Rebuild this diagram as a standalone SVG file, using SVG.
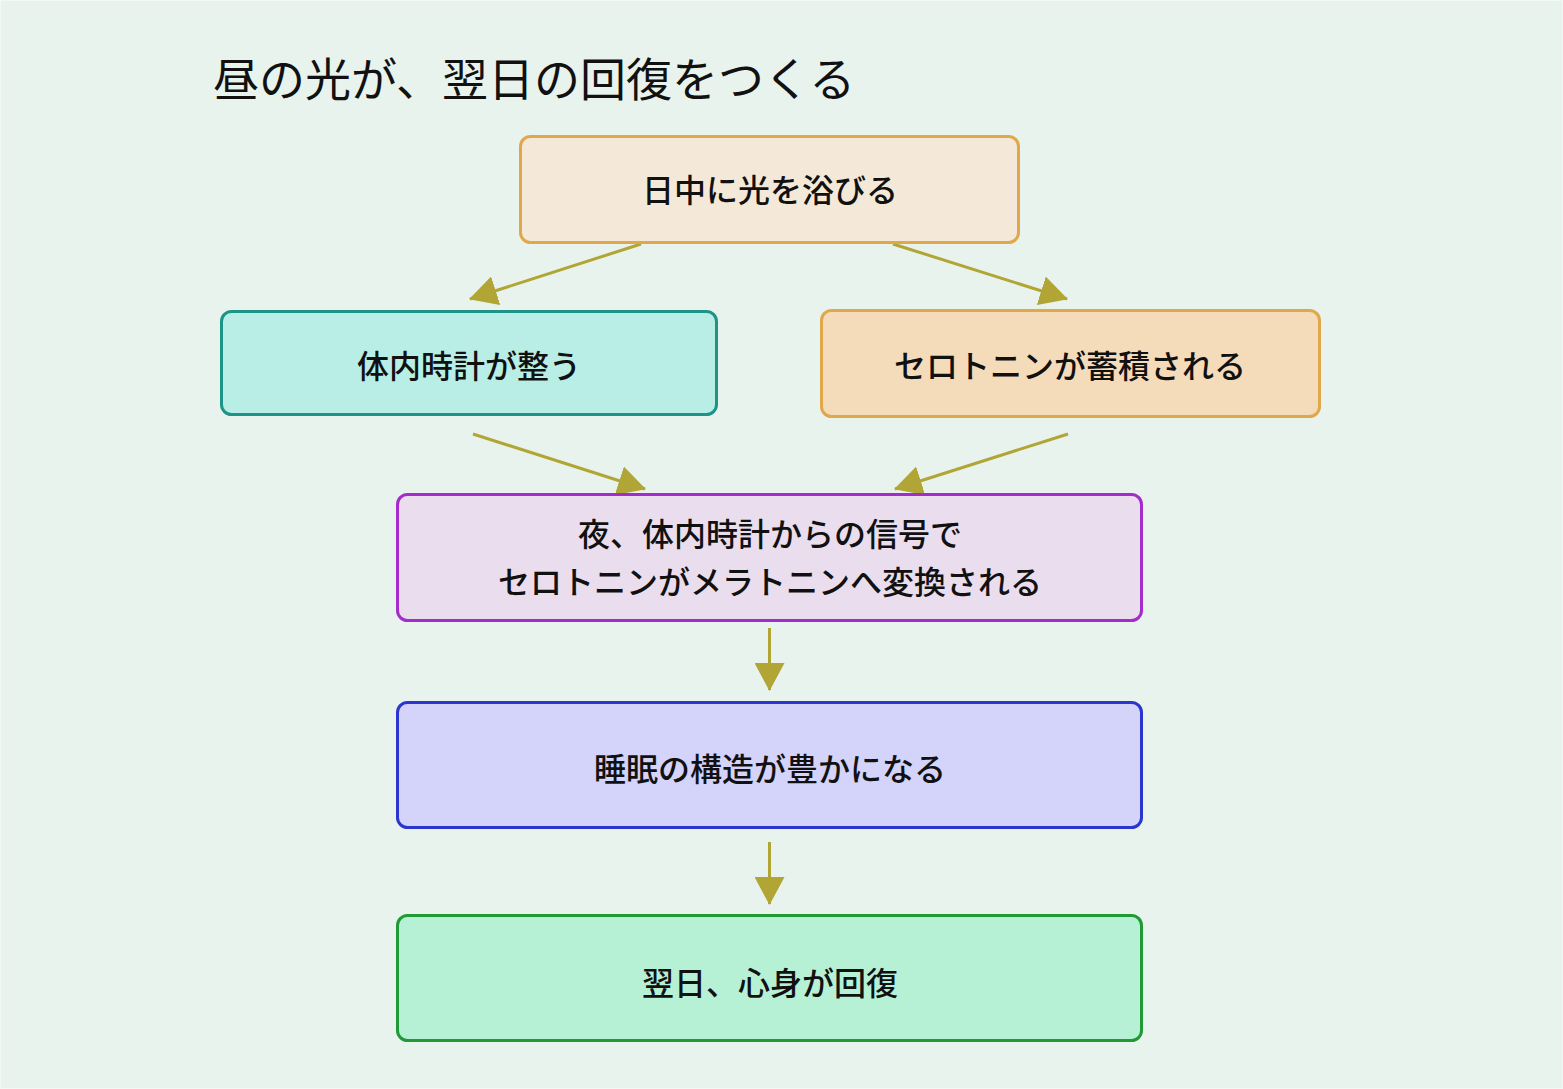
<svg xmlns="http://www.w3.org/2000/svg" width="1563" height="1089" viewBox="0 0 1563 1089">
<style>
.t{font-family:"Noto Sans CJK JP","Noto Sans CJK SC",sans-serif;fill:#111;text-anchor:middle;dominant-baseline:central}
.lbl{font-size:32px;font-weight:500}
.title{font-size:46px;font-weight:400;text-anchor:start;dominant-baseline:alphabetic}
.box{stroke-width:3}
.edge{stroke:#b0a535;stroke-width:3;fill:none;marker-end:url(#ah)}
</style>
<defs>
<marker id="ah" markerUnits="userSpaceOnUse" markerWidth="28" markerHeight="30" refX="27" refY="15" orient="auto">
<path d="M0,0 L28,15 L0,30 z" fill="#b0a535"/>
</marker>
</defs>
<rect x="0.5" y="0.5" width="1562" height="1088" fill="#e8f3ed" stroke="#f2f8f4" stroke-width="1"/>
<text class="t title" x="213" y="96">昼の光が、翌日の回復をつくる</text>
<g id="connectors">
<line class="edge" x1="641" y1="244" x2="470" y2="299"/>
<line class="edge" x1="893" y1="244" x2="1067" y2="299"/>
<line class="edge" x1="473" y1="434" x2="645" y2="489"/>
<line class="edge" x1="1068" y1="434" x2="895" y2="489"/>
<line class="edge" x1="769.5" y1="628" x2="769.5" y2="690"/>
<line class="edge" x1="769.5" y1="842" x2="769.5" y2="904"/>
</g>
<g id="n1">
<rect class="box" x="520.5" y="136.5" width="498" height="106" rx="10" fill="#f4e9d8" stroke="#e0a84a"/>
<text class="t lbl" x="770" y="188">日中に光を浴びる</text>
</g>
<g id="n2">
<rect class="box" x="221.5" y="311.5" width="495" height="103" rx="10" fill="#b8eee6" stroke="#1e9488"/>
<text class="t lbl" x="469" y="364">体内時計が整う</text>
</g>
<g id="n3">
<rect class="box" x="821.5" y="310.5" width="498" height="106" rx="10" fill="#f4dcba" stroke="#e0a84a"/>
<text class="t lbl" x="1070" y="364">セロトニンが蓄積される</text>
</g>
<g id="n4">
<rect class="box" x="397.5" y="494.5" width="744" height="126" rx="10" fill="#eadeee" stroke="#a52ccc"/>
<text class="t lbl" x="770" y="532">夜、体内時計からの信号で</text>
<text class="t lbl" x="770" y="580">セロトニンがメラトニンへ変換される</text>
</g>
<g id="n5">
<rect class="box" x="397.5" y="702.5" width="744" height="125" rx="10" fill="#d4d3fa" stroke="#2b35d0"/>
<text class="t lbl" x="770" y="767">睡眠の構造が豊かになる</text>
</g>
<g id="n6">
<rect class="box" x="397.5" y="915.5" width="744" height="125" rx="10" fill="#b6f1d6" stroke="#1f9a34"/>
<text class="t lbl" x="770" y="981">翌日、心身が回復</text>
</g>
</svg>
